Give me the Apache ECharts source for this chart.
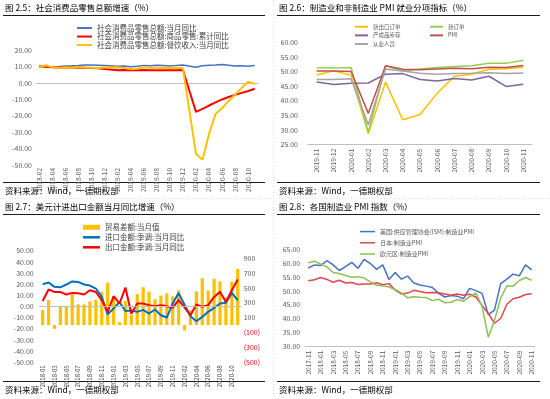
<!DOCTYPE html>
<html>
<head>
<meta charset="utf-8">
<script src="https://cdn.jsdelivr.net/npm/echarts@6/dist/echarts.min.js"></script>
<style>
  html, body { margin: 0; padding: 0; background: #fff; }
  #main { width: 550px; height: 399px; }
</style>
</head>
<body>
<div id="main"></div>
<script>
// 图2.5 社零增速 (1月无数据，用null连线)
var months1 = ['2018-02','2018-03','2018-04','2018-05','2018-06','2018-07','2018-08','2018-09','2018-10','2018-11','2018-12',
  '2019-01','2019-02','2019-03','2019-04','2019-05','2019-06','2019-07','2019-08','2019-09','2019-10','2019-11','2019-12',
  '2020-01','2020-02','2020-03','2020-04','2020-05','2020-06','2020-07','2020-08','2020-09','2020-10','2020-11'];
var retailMonth = [10.6, 10.1, 9.6, 9.9, 10.4, 10.5, 10.7, 11.0, 11.1, 10.9, 10.7,
  null, 10.2, 10.4, 10.0, 10.3, 10.8, 10.6, 10.9, 10.7, 10.4, 10.8, 11.0,
  null, 9.6, 10.6, 10.9, 11.1, 11.4, 10.9, 10.4, 10.6, 10.3, 10.7];
var goodsCum = [9.9, 9.9, 9.7, 9.5, 9.6, 9.5, 9.4, 9.3, 9.2, 9.1, 8.6,
  null, 7.8, 8.0, 7.9, 7.9, 8.0, 7.9, 7.8, 7.9, 7.9, 7.9, 8.0,
  null, -17.6, -15.8, -13.7, -11.8, -10.0, -8.5, -7.2, -6.0, -4.8, -3.5];
var cateringMonth = [9.7, 10.9, 9.6, 9.2, 9.6, 9.4, 9.8, 9.5, 9.4, 9.2, 9.5,
  null, 9.7, 9.2, 8.6, 8.8, 9.7, 9.3, 9.0, 9.3, 9.2, 9.3, 9.0,
  null, -43.1, -46.8, -31.1, -18.9, -15.2, -11.0, -7.0, -2.9, 0.8, -0.6];

// 图2.6 PMI 分项
var months2 = ['2019-11','2019-12','2020-01','2020-02','2020-03','2020-04','2020-05','2020-06','2020-07','2020-08','2020-09','2020-10','2020-11'];
var newExportOrders = [48.8, 50.3, 48.7, 28.7, 46.4, 33.5, 35.3, 42.6, 48.4, 49.1, 50.8, 51.0, 51.5];
var newOrders = [51.3, 51.2, 51.4, 29.3, 52.0, 50.2, 50.9, 51.4, 51.7, 52.0, 52.8, 52.8, 53.9];
var finishedStock = [46.4, 45.6, 46.0, 46.1, 49.1, 49.3, 47.3, 46.8, 47.6, 47.1, 48.4, 44.9, 45.7];
var pmiChina = [50.2, 50.2, 50.0, 35.7, 52.0, 50.8, 50.6, 50.9, 51.1, 51.0, 51.5, 51.4, 52.1];
var employees = [47.3, 47.3, 47.5, 31.8, 50.9, 50.2, 49.4, 49.1, 49.3, 49.4, 49.6, 49.3, 49.5];

// 图2.7 进出口 (2020年1-2月合并)
var months3 = ['2018-01','2018-02','2018-03','2018-04','2018-05','2018-06','2018-07','2018-08','2018-09','2018-10','2018-11','2018-12',
  '2019-01','2019-02','2019-03','2019-04','2019-05','2019-06','2019-07','2019-08','2019-09','2019-10','2019-11','2019-12',
  '2020-02','2020-03','2020-04','2020-05','2020-06','2020-07','2020-08','2020-09','2020-10','2020-11'];
var tradeBalance = [203, 337, -50, 252, 249, 416, 280, 279, 317, 340, 447, 570,
  391, 41, 326, 138, 417, 509, 450, 348, 397, 428, 387, 467,
  -71, 199, 453, 630, 464, 623, 589, 370, 584, 754];
var importYoy = [20.0, 21.5, 17.6, 17.2, 19.7, 22.5, 22.0, 19.7, 18.8, 16.1, 8.6, -7.0,
  -1.8, 4.0, -4.0, -3.5, -4.8, -3.0, -6.3, -2.7, -7.8, -9.9, 2.7, 12.0,
  null, -8.7, -13.2, -9.3, -4.8, -1.2, 2.7, 3.3, 12.2, 5.6];
var exportYoy = [5.0, 15.2, 13.1, 13.0, 10.7, 12.2, 11.8, 10.7, 14.6, 13.0, 5.6, -4.8,
  9.2, 2.7, 17.0, -6.5, 2.7, 2.7, 1.2, 0.3, 1.2, 0.3, -1.2, 6.0,
  null, -7.8, 1.8, -0.3, 1.2, 8.6, 13.1, 4.1, 14.6, 24.2];
var rightTicks3 = [-500, -300, -100, 100, 300, 500, 700, 900];

// 图2.8 各国制造业PMI
var months4 = ['2017-11','2017-12','2018-01','2018-02','2018-03','2018-04','2018-05','2018-06','2018-07','2018-08','2018-09','2018-10','2018-11','2018-12',
  '2019-01','2019-02','2019-03','2019-04','2019-05','2019-06','2019-07','2019-08','2019-09','2019-10','2019-11','2019-12',
  '2020-01','2020-02','2020-03','2020-04','2020-05','2020-06','2020-07','2020-08','2020-09','2020-10','2020-11'];
var pmiUS = [58.2, 59.3, 59.1, 60.8, 59.3, 57.3, 58.7, 60.2, 58.1, 61.3, 59.8, 57.7, 59.3, 54.1,
  56.6, 54.2, 55.3, 52.8, 52.1, 51.7, 51.2, 49.1, 47.8, 48.3, 48.1, 47.2,
  50.9, 50.1, 49.1, 41.5, 43.1, 52.6, 54.2, 56.0, 55.4, 59.3, 57.5];
var pmiJapan = [53.6, 54.0, 54.8, 54.1, 53.1, 53.8, 52.8, 53.0, 52.3, 52.5, 52.5, 52.9, 52.2, 52.6,
  50.3, 48.9, 49.2, 50.2, 49.8, 49.3, 49.4, 49.3, 48.9, 48.4, 48.9, 48.4,
  48.8, 47.8, 44.8, 41.9, 38.4, 40.1, 45.2, 47.2, 47.7, 48.7, 49.0];
var pmiEuro = [60.1, 60.6, 59.6, 58.6, 56.6, 56.2, 55.5, 54.9, 55.1, 54.6, 53.2, 52.0, 51.8, 51.4,
  50.5, 49.3, 47.5, 47.9, 47.7, 47.6, 46.5, 47.0, 45.7, 45.9, 46.9, 46.3,
  47.9, 49.2, 44.5, 33.4, 39.4, 47.4, 51.8, 51.7, 53.7, 54.8, 53.8];

var FONT = 'Noto Sans CJK SC';
var chart = echarts.init(document.getElementById('main'), null, { renderer: 'canvas' });

function fix2(v) { return v.toFixed(2); }

function valueAxis(grid, min, max, interval, margin) {
  return {
    type: 'value', gridIndex: grid, min: min, max: max, interval: interval,
    axisLine: { show: false }, axisTick: { show: false }, splitLine: { show: false },
    axisLabel: { formatter: fix2, fontSize: 7, color: '#595959', margin: margin, fontFamily: FONT }
  };
}

function catAxis(grid, data, interval, margin) {
  return {
    type: 'category', gridIndex: grid, data: data, boundaryGap: true,
    axisLine: { lineStyle: { color: '#BFBFBF', width: 1 } },
    axisTick: { show: false },
    axisLabel: { rotate: 90, interval: interval, fontSize: 6.5, color: '#595959', margin: margin, fontFamily: FONT }
  };
}

function line(name, x, y, data, color, width) {
  return {
    name: name, type: 'line', xAxisIndex: x, yAxisIndex: y, data: data,
    symbol: 'none', showSymbol: false, connectNulls: true,
    lineStyle: { color: color, width: width }, itemStyle: { color: color }
  };
}

function legend(names, left, top, rowH, iconW, iconH, size, color) {
  return {
    data: names, orient: 'vertical', left: left, top: top, padding: 0, itemGap: 0,
    icon: 'rect', itemWidth: iconW, itemHeight: iconH, itemTextGap: 3,
    textStyle: { fontSize: size, lineHeight: rowH, color: color, fontFamily: FONT }
  };
}

function panelText(x, y, text, size) {
  return { type: 'text', x: x, y: y, silent: true,
    style: { text: text, fill: '#000', font: size + 'px "' + FONT + '"', verticalAlign: 'middle' } };
}

function rule(x1, x2, y) {
  return { type: 'line', silent: true, shape: { x1: x1, y1: y, x2: x2, y2: y },
    style: { stroke: '#1a1a1a', lineWidth: 1 } };
}

var ax3 = catAxis(2, months3, 1, 3);
ax3.axisLine.onZero = true;
ax3.axisLine.onZeroAxisIndex = 2;
ax3.axisLabel.fontSize = 6;
ax3.axisLabel.color = '#404040';
ax3.z = 5;

var right3 = valueAxis(2, -500, 1000, 100, 3);
right3.position = 'right';
right3.axisLabel.formatter = function (v) {
  if (rightTicks3.indexOf(v) < 0) return '';
  return v < 0 ? '(' + (-v) + ')' : String(v);
};
right3.axisLabel.color = function (v) { return Number(v) < 0 ? '#FF0000' : '#595959'; };

var option = {
  animation: false,
  textStyle: { fontFamily: FONT },
  grid: [
    { left: 36, top: 50.3, width: 222, height: 114.7 },
    { left: 308, top: 42.3, width: 224, height: 102.4 },
    { left: 39.7, top: 250.7, width: 201, height: 111.6 },
    { left: 305.2, top: 249, width: 229.6, height: 97.7 }
  ],
  xAxis: [
    catAxis(0, months1, 1, 3),
    catAxis(1, months2, 0, 4),
    ax3,
    catAxis(3, months4, 1, 4)
  ],
  yAxis: [
    valueAxis(0, -50, 20, 10, 4),
    valueAxis(1, 25, 60, 5, 10),
    valueAxis(2, -50, 50, 10, 6),
    right3,
    valueAxis(3, 30, 65, 5, 5)
  ],
  legend: [
    legend(['社会消费品零售总额:当月同比', '社会消费品零售总额:商品零售:累计同比', '社会消费品零售总额:餐饮收入:当月同比'],
      77, 23.8, 8.5, 15, 2, 7.5, '#404040'),
    legend(['新出口订单', '产成品库存', '从业人员'], 355, 22.4, 8.65, 13, 2, 5.5, '#595959'),
    legend(['新订单', 'PMI'], 430, 22.4, 8.65, 13, 2, 5.5, '#595959'),
    legend(['贸易差额:当月值'], 83, 222.3, 10, 17, 5, 7.5, '#404040'),
    legend(['进口金额:季调:当月同比', '出口金额:季调:当月同比'], 83, 232.3, 10, 17, 2.5, 7.5, '#404040'),
    legend(['美国:供应管理协会(ISM):制造业PMI', '日本:制造业PMI', '欧元区:制造业PMI'],
      360, 226, 11.2, 15, 1.5, 6, '#595959')
  ],
  series: [
    line('社会消费品零售总额:当月同比', 0, 0, retailMonth, '#4472C4', 1.5),
    line('社会消费品零售总额:商品零售:累计同比', 0, 0, goodsCum, '#FF0000', 2),
    line('社会消费品零售总额:餐饮收入:当月同比', 0, 0, cateringMonth, '#FFC000', 2),

    line('新出口订单', 1, 1, newExportOrders, '#FFC000', 1.5),
    line('新订单', 1, 1, newOrders, '#92D050', 1.5),
    line('产成品库存', 1, 1, finishedStock, '#8064A2', 1.5),
    line('PMI', 1, 1, pmiChina, '#C0504D', 1.5),
    line('从业人员', 1, 1, employees, '#A5A5A5', 1.5),

    { name: '贸易差额:当月值', type: 'bar', xAxisIndex: 2, yAxisIndex: 3, data: tradeBalance,
      barWidth: '55%', itemStyle: { color: '#FFC000' } },
    line('进口金额:季调:当月同比', 2, 2, importYoy, '#0070C0', 2),
    line('出口金额:季调:当月同比', 2, 2, exportYoy, '#FF0000', 2),

    line('美国:供应管理协会(ISM):制造业PMI', 3, 4, pmiUS, '#4472C4', 1.5),
    line('日本:制造业PMI', 3, 4, pmiJapan, '#E0474C', 1.5),
    line('欧元区:制造业PMI', 3, 4, pmiEuro, '#8CC152', 1.5)
  ],
  graphic: [
    { type: 'line', silent: true, shape: { x1: 273.5, y1: 0, x2: 273.5, y2: 399 }, style: { stroke: '#dddddd', lineWidth: 1, lineDash: [1, 2] } },
    { type: 'line', silent: true, shape: { x1: 0, y1: 198.5, x2: 550, y2: 198.5 }, style: { stroke: '#dddddd', lineWidth: 1, lineDash: [1, 2] } },

    panelText(5, 7.5, '图 2.5：社会消费品零售总额增速（%）', 8.5),
    rule(3, 265, 15.5),
    rule(3, 265, 182.5),
    panelText(5, 190.7, '资料来源：Wind，一德期权部', 8.5),

    panelText(279, 7.5, '图 2.6：制造业和非制造业 PMI 就业分项指标（%）', 8.5),
    rule(277, 540, 15.5),
    rule(277, 540, 182.5),
    panelText(279, 190.7, '资料来源：Wind，一德期权部', 8.5),

    panelText(5, 206.5, '图 2.7：美元计进出口金额当月同比增速（%）', 8.5),
    rule(3, 265, 214.5),
    rule(3, 265, 381.5),
    panelText(5, 389.7, '资料来源：Wind，一德期权部', 8.5),

    panelText(279, 206.5, '图 2.8：各国制造业 PMI 指数（%）', 8.5),
    rule(277, 540, 214.5),
    rule(277, 540, 381.5),
    panelText(279, 389.7, '资料来源：Wind，一德期权部', 8.5)
  ]
};

chart.setOption(option);
</script>
</body>
</html>
